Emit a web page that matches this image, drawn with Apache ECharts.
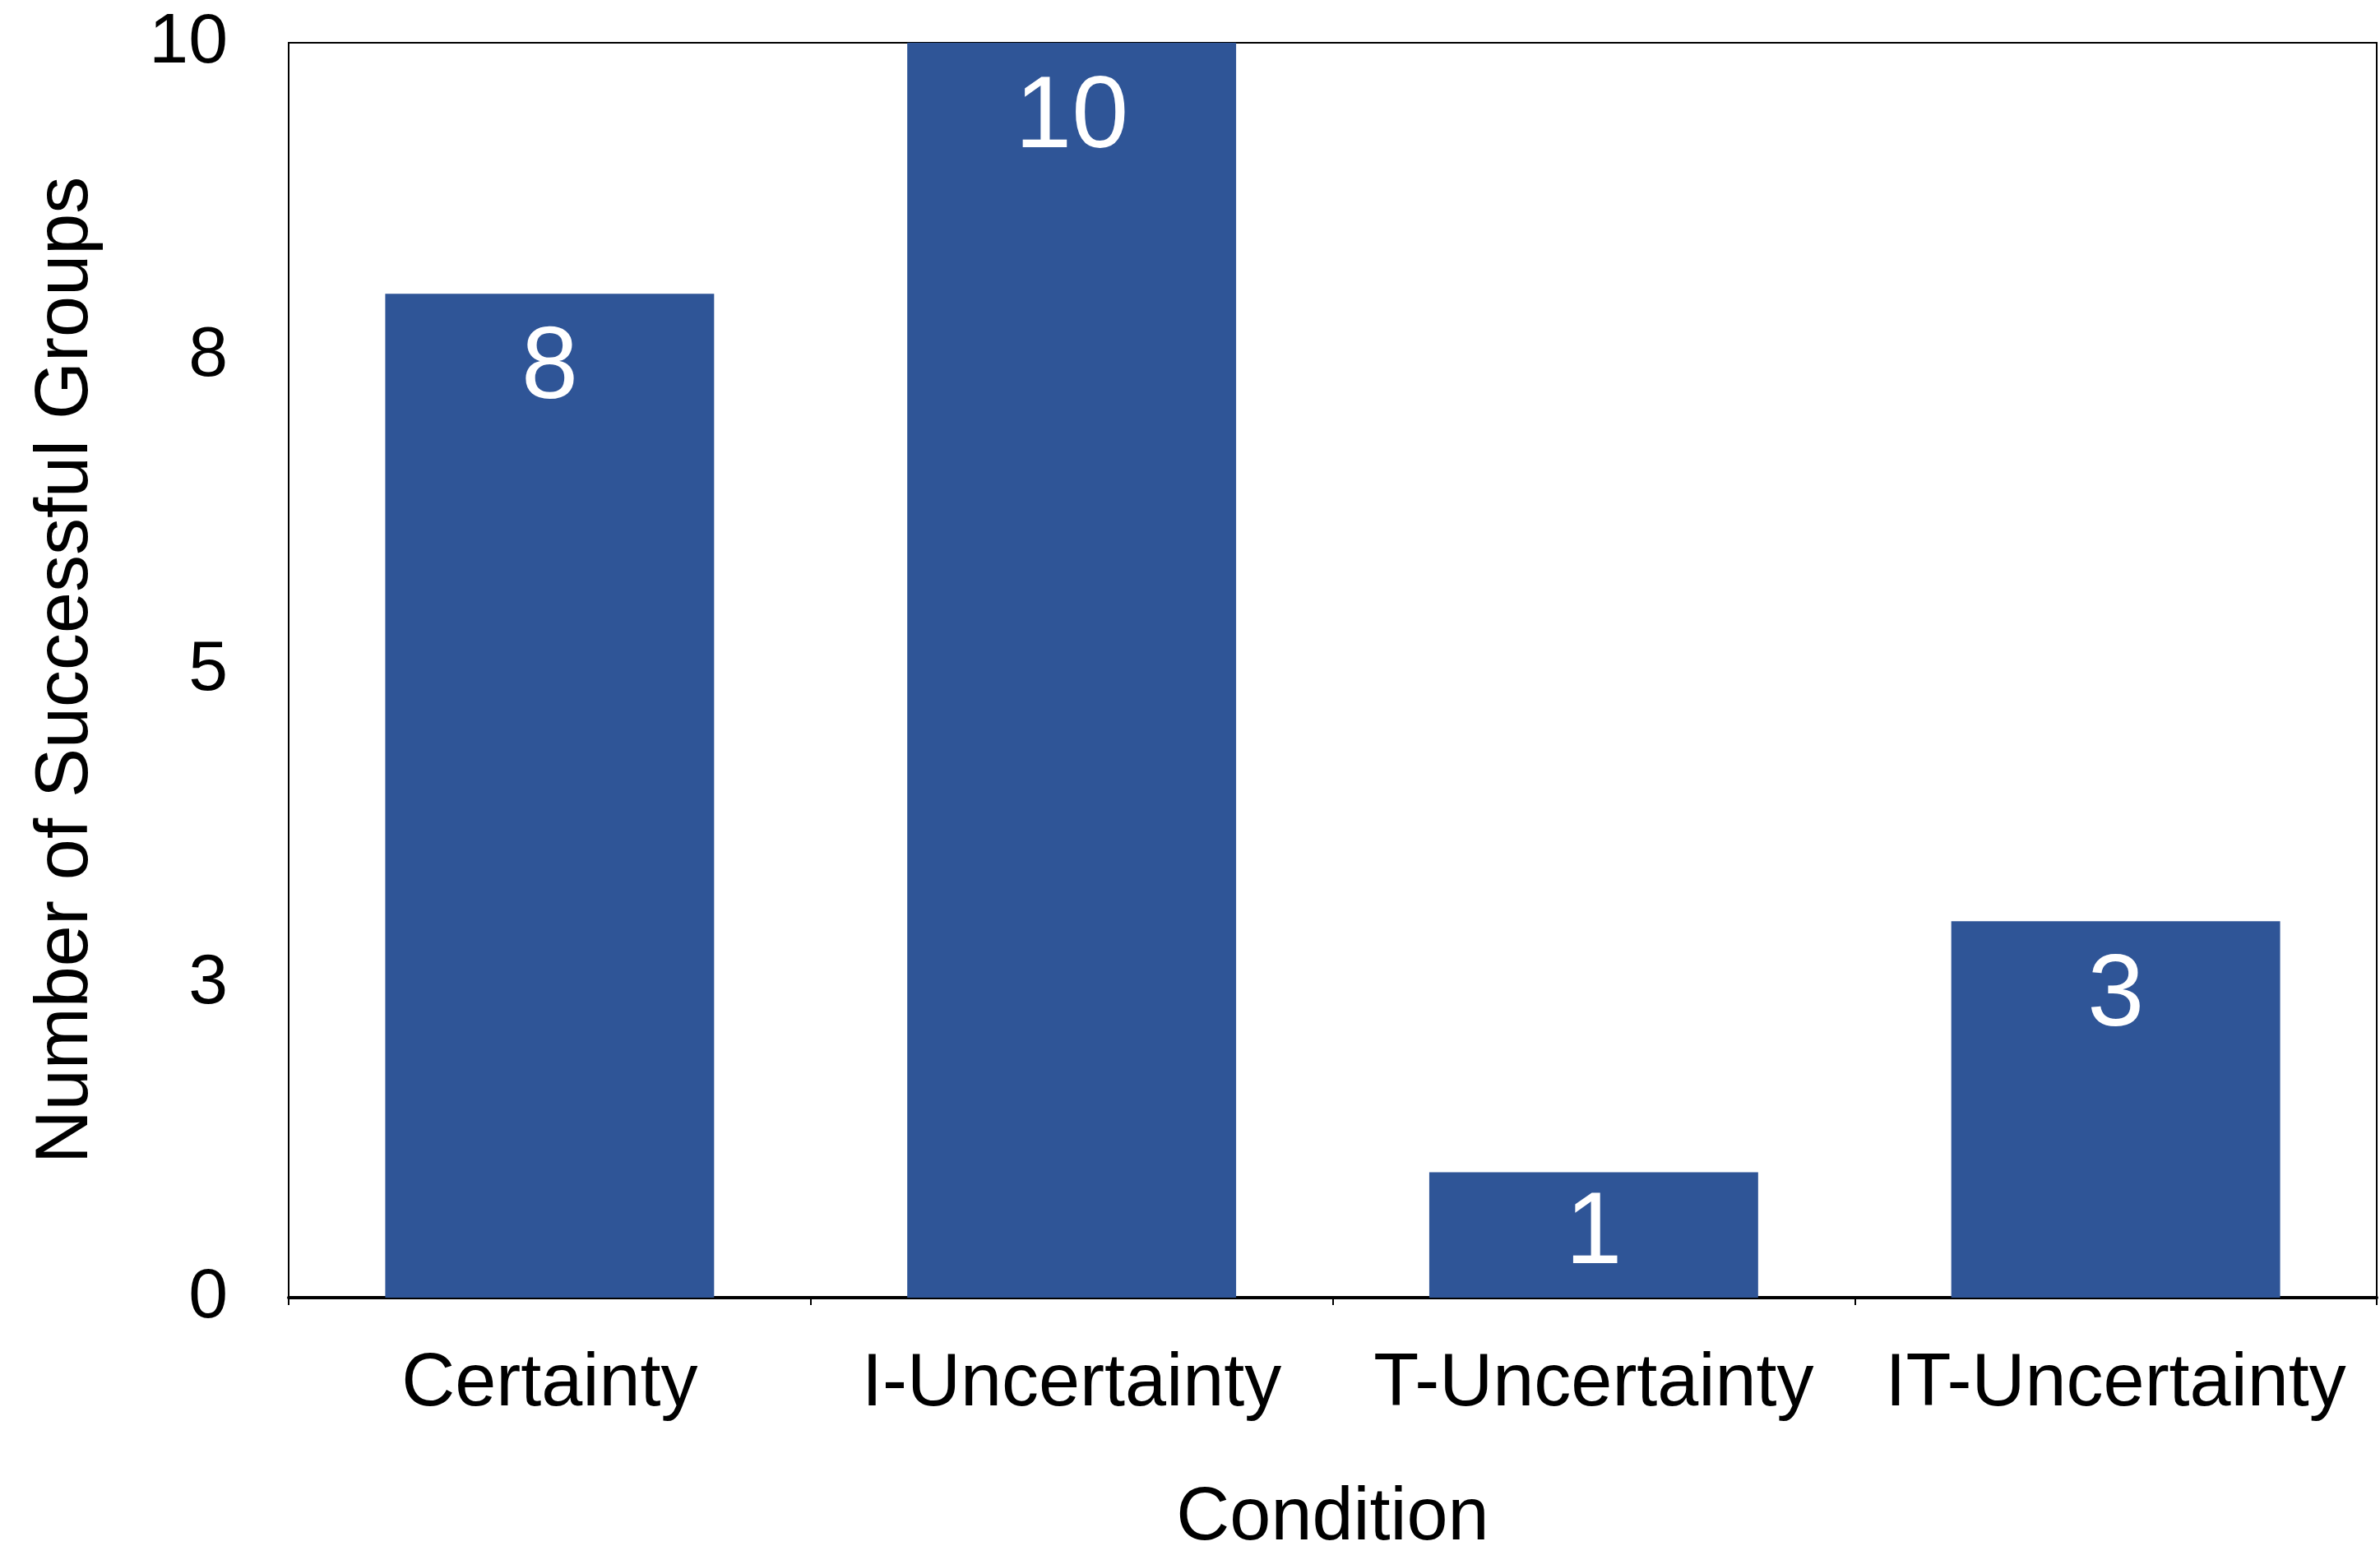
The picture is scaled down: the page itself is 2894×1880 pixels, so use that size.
<!DOCTYPE html>
<html>
<head>
<meta charset="utf-8">
<title>Number of Successful Groups by Condition</title>
<script src="https://cdn.jsdelivr.net/npm/echarts@6/dist/echarts.min.js"></script>
<style>
  html, body { margin: 0; padding: 0; background: #ffffff; }
  #chart { width: 2894px; height: 1880px; }
</style>
</head>
<body>
<div id="chart"></div>
<script>
// Conditions on the x axis
const categories = ['Certainty', 'I-Uncertainty', 'T-Uncertainty', 'IT-Uncertainty'];
// Number of successful groups in each condition
const successCounts = [8, 10, 1, 3];
// Y axis range and tick step
const yMin = 0;
const yMax = 10;
const yStep = 2.5;

const FONT = '"Liberation Sans", Arial, Helvetica, sans-serif';
const BAR_COLOR = '#2F5597';

// Short bars get their value label centred inside instead of at the top
const barData = successCounts.map(v =>
  v < 2 ? { value: v, label: { position: 'inside', distance: 0 } } : v
);

const chart = echarts.init(document.getElementById('chart'), null, { renderer: 'canvas' });

chart.setOption({
  backgroundColor: '#ffffff',
  animation: false,
  grid: {
    left: 351,
    right: 4,
    top: 52,
    bottom: 302,
    outerBoundsMode: 'none',
    containLabel: false,
    show: true,
    borderColor: '#000000',
    borderWidth: 2,
    backgroundColor: 'transparent'
  },
  xAxis: {
    type: 'category',
    data: categories,
    name: 'Condition',
    nameLocation: 'middle',
    nameGap: 224,
    nameTextStyle: { fontFamily: FONT, fontSize: 90, color: '#000000' },
    axisLine: { show: true, lineStyle: { color: '#000000', width: 4 } },
    axisTick: { show: true, length: 9, lineStyle: { color: '#000000', width: 2 } },
    axisLabel: { fontFamily: FONT, fontSize: 90, color: '#000000', margin: 61, interval: 0 },
    splitLine: { show: false }
  },
  yAxis: {
    type: 'value',
    min: yMin,
    max: yMax,
    interval: yStep,
    name: 'Number of Successful Groups',
    nameLocation: 'middle',
    nameGap: 225,
    nameRotate: 90,
    nameTextStyle: { fontFamily: FONT, fontSize: 90, color: '#000000' },
    axisLine: { show: true, lineStyle: { color: '#000000', width: 2 } },
    axisTick: { show: false },
    axisLabel: {
      fontFamily: FONT,
      fontSize: 86,
      color: '#000000',
      margin: 74,
      formatter: v => String(Math.round(v))
    },
    splitLine: { show: false }
  },
  series: [{
    type: 'bar',
    data: barData,
    barCategoryGap: '37%',
    itemStyle: { color: BAR_COLOR },
    label: {
      show: true,
      position: 'insideTop',
      distance: 31,
      fontFamily: FONT,
      fontSize: 124,
      color: '#ffffff'
    }
  }]
});
</script>
</body>
</html>
